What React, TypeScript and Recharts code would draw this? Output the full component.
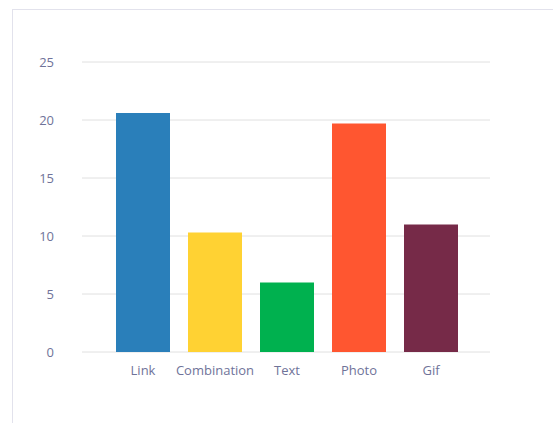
import React from 'react';
import { BarChart, Bar, XAxis, YAxis, CartesianGrid, Cell } from 'recharts';

const categories = ['Link', 'Combination', 'Text', 'Photo', 'Gif'];
const counts = [20.6, 10.3, 6, 19.7, 11];
const colors = ['#2a7fba', '#ffd233', '#00b14f', '#ff5630', '#762a48'];
const yTicks = [0, 5, 10, 15, 20, 25];

const data = categories.map((name, i) => ({ name, value: counts[i] }));

const tickStyle = { fill: '#6f7399', fontSize: 13, fontFamily: '"Open Sans", "Noto Sans", sans-serif' };

export default function App() {
  return (
    <div style={{ position: 'absolute', left: 0, top: 0, width: 553, height: 423, background: '#fff', overflow: 'hidden' }}>
      <div
        style={{
          position: 'absolute',
          left: 12,
          top: 9,
          width: 560,
          height: 430,
          borderTop: '1px solid #e2e2ec',
          borderLeft: '1px solid #e2e2ec',
        }}
      />
      <div style={{ position: 'absolute', left: 0, top: 0 }}>
        <BarChart
          width={553}
          height={423}
          data={data}
          margin={{ top: 62, right: 63, left: 0, bottom: 0 }}
          barCategoryGap="12.5%"
        >
          <CartesianGrid vertical={false} stroke="#e0e0e0" />
          <XAxis
            dataKey="name"
            axisLine={false}
            tickLine={false}
            tick={tickStyle}
            tickMargin={8}
            padding={{ left: 25, right: 23 }}
            interval={0}
            height={71}
          />
          <YAxis
            domain={[0, 25]}
            ticks={yTicks}
            axisLine={false}
            tickLine={false}
            tick={tickStyle}
            tickMargin={22}
            width={82}
          />
          <Bar dataKey="value" isAnimationActive={false}>
            {data.map((d, i) => (
              <Cell key={d.name} fill={colors[i]} />
            ))}
          </Bar>
        </BarChart>
      </div>
    </div>
  );
}
